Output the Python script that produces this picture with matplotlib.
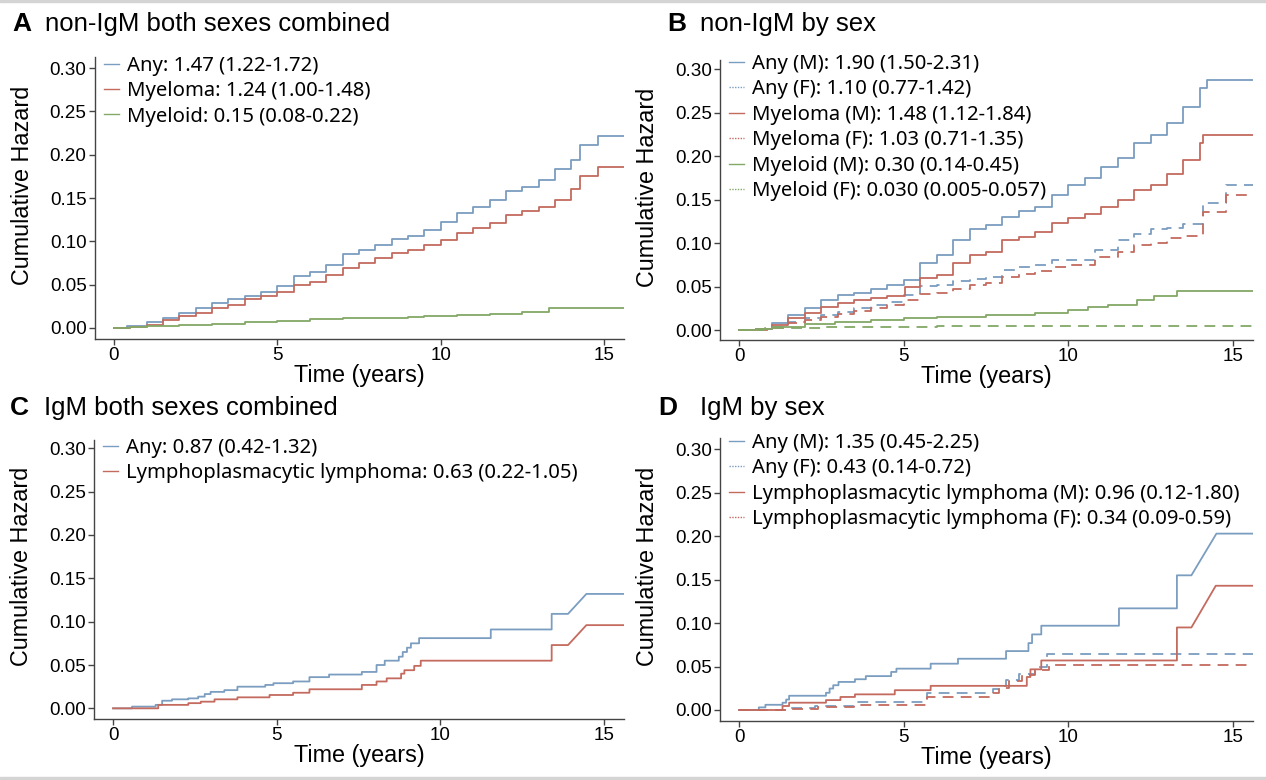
import matplotlib
matplotlib.use('Agg')
import matplotlib.pyplot as plt
from matplotlib.lines import Line2D
from matplotlib.patches import Rectangle

BLUE = '#7b9dc0'
RED = '#c46a5e'
GREEN = '#84a866'

# ---- panel A: non-IgM both sexes combined
A_ANY_T = [0, 0.4, 1, 1.5, 2, 2.5, 3, 3.5, 4, 4.5, 5, 5.5, 6, 6.5, 7, 7.5, 8, 8.5, 9, 9.5,
           10, 10.5, 11, 11.5, 12, 12.5, 13, 13.5, 14, 14.25, 14.8, 15.6]
A_ANY_V = [0, 0.002, 0.0065, 0.0115, 0.017, 0.023, 0.029, 0.033, 0.0365, 0.042, 0.049, 0.060,
           0.065, 0.073, 0.085, 0.090, 0.096, 0.103, 0.106, 0.113, 0.122, 0.133, 0.140, 0.148,
           0.158, 0.163, 0.171, 0.183, 0.194, 0.211, 0.221, 0.221]
A_MYE_T = [0, 0.5, 1, 1.5, 2, 2.5, 3, 3.5, 4, 4.5, 5, 5.5, 6, 6.5, 7, 7.5, 8, 8.5, 9, 9.5,
           10, 10.5, 11, 11.5, 12, 12.5, 13, 13.5, 14, 14.25, 14.8, 15.6]
A_MYE_V = [0, 0.001, 0.004, 0.009, 0.0135, 0.017, 0.023, 0.027, 0.033, 0.0365, 0.042, 0.050,
           0.053, 0.0615, 0.069, 0.075, 0.081, 0.086, 0.090, 0.096, 0.102, 0.1095, 0.115, 0.121,
           0.130, 0.135, 0.140, 0.148, 0.160, 0.175, 0.186, 0.186]
A_MYD_T = [0, 0.5, 1, 2, 3, 4, 5, 6, 7, 8, 9, 9.5, 10.5, 11.5, 12.5, 13.3, 15.6]
A_MYD_V = [0, 0.001, 0.002, 0.004, 0.005, 0.0065, 0.008, 0.0105, 0.011, 0.0115, 0.013, 0.014,
           0.015, 0.0165, 0.019, 0.023, 0.023]

# ---- panel B: non-IgM by sex
B_ANY_M_T = [0, 0.5, 1, 1.5, 2, 2.5, 3, 3.5, 4, 4.5, 5, 5.5, 6, 6.5, 7, 7.5, 8, 8.5, 9, 9.5,
             10, 10.5, 11, 11.5, 12, 12.5, 13, 13.5, 14, 14.2, 15.6]
B_ANY_M_V = [0, 0.001, 0.0085, 0.017, 0.025, 0.0345, 0.040, 0.043, 0.047, 0.052, 0.058, 0.077,
             0.086, 0.1035, 0.116, 0.121, 0.130, 0.137, 0.142, 0.155, 0.167, 0.1745, 0.188,
             0.1975, 0.215, 0.2245, 0.238, 0.257, 0.278, 0.2875, 0.2875]
B_ANY_F_T = [0, 0.5, 1, 1.5, 2, 2.5, 3, 3.5, 4, 4.5, 5, 5.5, 6, 6.5, 7, 7.5, 8, 8.5, 9, 9.5,
             10.8, 11.5, 12, 12.5, 13, 13.5, 14.1, 14.8, 15.6]
B_ANY_F_V = [0, 0.001, 0.004, 0.0095, 0.0135, 0.017, 0.021, 0.025, 0.029, 0.0325, 0.040, 0.0505,
             0.052, 0.056, 0.059, 0.061, 0.069, 0.073, 0.075, 0.081, 0.092, 0.1035, 0.111, 0.116,
             0.117, 0.122, 0.146, 0.167, 0.167]
B_MYE_M_T = [0, 0.5, 1, 1.5, 2, 2.5, 3, 3.5, 4, 4.5, 5.05, 5.5, 6, 6.5, 7, 7.5, 8, 8.5, 9, 9.5,
             10, 10.5, 11, 11.5, 12, 12.5, 13, 13.5, 14, 14.1, 15.6]
B_MYE_M_V = [0, 0.001, 0.0058, 0.0135, 0.019, 0.027, 0.031, 0.0345, 0.0365, 0.039, 0.050, 0.0595,
             0.063, 0.077, 0.086, 0.090, 0.1035, 0.107, 0.113, 0.123, 0.1285, 0.134, 0.142,
             0.1495, 0.161, 0.167, 0.180, 0.1955, 0.215, 0.2245, 0.2245]
B_MYE_F_T = [0, 0.5, 1, 1.5, 2, 2.5, 3, 3.5, 4, 4.5, 5, 5.5, 6, 6.5, 7, 7.5, 8, 8.5, 9, 9.5,
             10, 10.8, 11.5, 12, 12.5, 13, 13.5, 14.1, 14.8, 15.6]
B_MYE_F_V = [0, 0.0005, 0.002, 0.0077, 0.011, 0.0155, 0.0185, 0.022, 0.025, 0.029, 0.0345, 0.0415,
             0.043, 0.047, 0.052, 0.054, 0.0615, 0.0645, 0.068, 0.073, 0.075, 0.0845, 0.090,
             0.098, 0.100, 0.1055, 0.108, 0.136, 0.155, 0.155]
B_MYD_M_T = [0, 0.5, 1, 2, 2.9, 4, 5, 6, 7.5, 9, 10, 10.6, 11.2, 12.1, 12.6, 13.3, 15.6]
B_MYD_M_V = [0, 0.001, 0.004, 0.007, 0.0096, 0.011, 0.0134, 0.015, 0.017, 0.020, 0.023, 0.026,
             0.029, 0.0345, 0.039, 0.045, 0.045]
B_MYD_F_T = [0, 0.8, 2.5, 6.0, 15.6]
B_MYD_F_V = [0, 0.002, 0.003, 0.0048, 0.0048]

# ---- panel C: IgM both sexes combined (steps, then a sloped tail)
C_ANY_T = [0, 0.58, 1.3, 1.5, 1.8, 2.3, 2.6, 2.8, 2.98, 3.4, 3.8, 4.65, 4.9, 5.5, 6.0, 6.6, 7.6,
           8.05, 8.3, 8.73, 8.85, 8.98, 9.1, 9.35, 11.54, 13.4]
C_ANY_V = [0, 0.002, 0.004, 0.0088, 0.0104, 0.0115, 0.0135, 0.0165, 0.019, 0.021, 0.025, 0.027,
           0.029, 0.031, 0.036, 0.039, 0.042, 0.050, 0.055, 0.0596, 0.065, 0.070, 0.075, 0.081,
           0.091, 0.109]
C_ANY_TAIL_T = [13.9, 14.46, 15.6]
C_ANY_TAIL_V = [0.109, 0.132, 0.132]
C_LPL_T = [0, 1.38, 2.3, 2.68, 3.1, 3.8, 4.78, 5.5, 6.0, 7.6, 8.05, 8.36, 8.8, 8.9, 9.2, 9.4, 13.4]
C_LPL_V = [0, 0.004, 0.006, 0.0077, 0.0104, 0.0127, 0.0154, 0.018, 0.022, 0.027, 0.031, 0.0346,
           0.040, 0.044, 0.049, 0.055, 0.073]
C_LPL_TAIL_T = [13.9, 14.46, 15.6]
C_LPL_TAIL_V = [0.073, 0.096, 0.096]

# ---- panel D: IgM by sex
D_ANY_M_T = [0, 0.6, 0.8, 1.32, 1.43, 1.52, 2.64, 2.75, 2.86, 3.02, 3.52, 3.85, 4.62, 4.78, 5.82,
             6.65, 8.11, 8.79, 8.9, 9.18, 11.54, 13.3]
D_ANY_M_V = [0, 0.003, 0.006, 0.0084, 0.012, 0.0164, 0.0198, 0.0247, 0.0285, 0.0323, 0.0354,
             0.039, 0.0438, 0.0476, 0.0533, 0.059, 0.0678, 0.077, 0.087, 0.097, 0.117, 0.155]
D_ANY_M_TAIL_T = [13.74, 14.5, 15.6]
D_ANY_M_TAIL_V = [0.155, 0.203, 0.203]
D_ANY_F_T = [0, 1.4, 2.3, 3.5, 5.7, 7.7, 7.9, 8.1, 8.5, 9.0, 9.35, 15.6]
D_ANY_F_V = [0, 0.002, 0.005, 0.0095, 0.0195, 0.024, 0.028, 0.035, 0.042, 0.05, 0.064, 0.064]
D_LPL_M_T = [0, 1.32, 1.52, 2.64, 3.08, 3.52, 4.73, 5.82, 8.74, 8.85, 9.18, 13.3]
D_LPL_M_V = [0, 0.0046, 0.0084, 0.0114, 0.015, 0.018, 0.0228, 0.0278, 0.038, 0.0468, 0.057, 0.095]
D_LPL_M_TAIL_T = [13.74, 14.48, 15.6]
D_LPL_M_TAIL_V = [0.095, 0.143, 0.143]
D_LPL_F_T = [0, 1.5, 2.4, 3.5, 5.7, 7.7, 7.9, 8.2, 8.6, 9.0, 9.4, 15.6]
D_LPL_F_V = [0, 0.0015, 0.004, 0.006, 0.0155, 0.02, 0.025, 0.033, 0.04, 0.046, 0.0515, 0.0515]

LABELS_A = ['Any: 1.47 (1.22-1.72)', 'Myeloma: 1.24 (1.00-1.48)', 'Myeloid: 0.15 (0.08-0.22)']
LABELS_B = ['Any (M): 1.90 (1.50-2.31)', 'Any (F): 1.10 (0.77-1.42)',
            'Myeloma (M): 1.48 (1.12-1.84)', 'Myeloma (F): 1.03 (0.71-1.35)',
            'Myeloid (M): 0.30 (0.14-0.45)', 'Myeloid (F): 0.030 (0.005-0.057)']
LABELS_C = ['Any: 0.87 (0.42-1.32)', 'Lymphoplasmacytic lymphoma: 0.63 (0.22-1.05)']
LABELS_D = ['Any (M): 1.35 (0.45-2.25)', 'Any (F): 0.43 (0.14-0.72)',
            'Lymphoplasmacytic lymphoma (M): 0.96 (0.12-1.80)',
            'Lymphoplasmacytic lymphoma (F): 0.34 (0.09-0.59)']
TITLES = [('A', 'non-IgM both sexes combined'), ('B', 'non-IgM by sex'),
          ('C', 'IgM both sexes combined'), ('D', 'IgM by sex')]

SANS = ['Liberation Sans', 'DejaVu Sans']
LEG_FONT = ['Noto Sans', 'DejaVu Sans']
DASH = (0, (6, 4))


def step_xy(t, v, tail_t=(), tail_v=()):
    x, y = [t[0]], [v[0]]
    for i in range(1, len(t)):
        x += [t[i], t[i]]
        y += [v[i - 1], v[i]]
    return x + list(tail_t), y + list(tail_v)


def setup(ax, ylim):
    ax.set_xlim(-0.58, 15.61)
    ax.set_ylim(*ylim)
    for s in ['top', 'right']:
        ax.spines[s].set_visible(False)
    for s in ['left', 'bottom']:
        ax.spines[s].set_color('#444444')
        ax.spines[s].set_linewidth(1.0)
    ax.set_xticks([0, 5, 10, 15])
    ax.set_yticks([0, 0.05, 0.10, 0.15, 0.20, 0.25, 0.30])
    ax.set_yticklabels(['%.2f' % y for y in ax.get_yticks()])
    ax.tick_params(direction='out', length=4, width=1, color='#444444', pad=2,
                   labelsize=13.6)
    for lab in ax.get_xticklabels() + ax.get_yticklabels():
        lab.set_family(SANS)
    ax.set_xlabel('Time (years)', fontsize=16.8, family=SANS, labelpad=0)
    ax.set_ylabel('Cumulative Hazard', fontsize=16.8, family=SANS)
    ax.yaxis.set_label_coords(-0.115, 0.546)


def legend(ax, handles, labels, top=1.0):
    ax.legend(handles, labels, loc='upper left', bbox_to_anchor=(0.017, top), frameon=False,
              borderpad=0, borderaxespad=0, handlelength=0.75, handletextpad=0.38,
              labelspacing=0.27, prop={'family': LEG_FONT, 'size': 14.6})


def proxy(color, dashed=False):
    return Line2D([], [], color=color, lw=1.0, ls=(0, (1, 1)) if dashed else '-')


fig = plt.figure(figsize=(12.66, 7.8), dpi=100)
fig.patches.append(Rectangle((0, 0.9975), 1, 0.0025, transform=fig.transFigure,
                             color='#d4d4d4', zorder=0))
fig.patches.append(Rectangle((0, 0), 1, 0.004, transform=fig.transFigure,
                             color='#d4d4d4', zorder=0))

axA = fig.add_axes([0.0750, 0.5654, 0.4179, 0.3615])
axB = fig.add_axes([0.5687, 0.5641, 0.4210, 0.3590])
axC = fig.add_axes([0.0743, 0.0782, 0.4186, 0.3577])
axD = fig.add_axes([0.5687, 0.0756, 0.4210, 0.3628])

LW = 1.3

# A
axA.plot(*step_xy(A_ANY_T, A_ANY_V), color=BLUE, lw=LW)
axA.plot(*step_xy(A_MYE_T, A_MYE_V), color=RED, lw=LW)
axA.plot(*step_xy(A_MYD_T, A_MYD_V), color=GREEN, lw=LW)
setup(axA, (-0.0127, 0.3127))
legend(axA, [proxy(BLUE), proxy(RED), proxy(GREEN)], LABELS_A, 1.005)

# B
axB.plot(*step_xy(B_ANY_M_T, B_ANY_M_V), color=BLUE, lw=LW)
axB.plot(*step_xy(B_ANY_F_T, B_ANY_F_V), color=BLUE, lw=LW, ls=DASH)
axB.plot(*step_xy(B_MYE_M_T, B_MYE_M_V), color=RED, lw=LW)
axB.plot(*step_xy(B_MYE_F_T, B_MYE_F_V), color=RED, lw=LW, ls=DASH)
axB.plot(*step_xy(B_MYD_M_T, B_MYD_M_V), color=GREEN, lw=LW)
axB.plot(*step_xy(B_MYD_F_T, B_MYD_F_V), color=GREEN, lw=LW, ls=DASH)
setup(axB, (-0.0115, 0.3107))
legend(axB, [proxy(BLUE), proxy(BLUE, True), proxy(RED), proxy(RED, True),
             proxy(GREEN), proxy(GREEN, True)], LABELS_B, 1.022)

# C
axC.plot(*step_xy(C_ANY_T, C_ANY_V, C_ANY_TAIL_T, C_ANY_TAIL_V), color=BLUE, lw=LW)
axC.plot(*step_xy(C_LPL_T, C_LPL_V, C_LPL_TAIL_T, C_LPL_TAIL_V), color=RED, lw=LW)
setup(axC, (-0.0123, 0.3096))
legend(axC, [proxy(BLUE), proxy(RED)], LABELS_C, 1.008)

# D
axD.plot(*step_xy(D_ANY_M_T, D_ANY_M_V, D_ANY_M_TAIL_T, D_ANY_M_TAIL_V), color=BLUE, lw=LW)
axD.plot(*step_xy(D_ANY_F_T, D_ANY_F_V), color=BLUE, lw=LW, ls=DASH)
axD.plot(*step_xy(D_LPL_M_T, D_LPL_M_V, D_LPL_M_TAIL_T, D_LPL_M_TAIL_V), color=RED, lw=LW)
axD.plot(*step_xy(D_LPL_F_T, D_LPL_F_V), color=RED, lw=LW, ls=DASH)
setup(axD, (-0.0127, 0.3130))
legend(axD, [proxy(BLUE), proxy(BLUE, True), proxy(RED), proxy(RED, True)], LABELS_D, 1.018)

# panel titles
title_pos = [(12, 45, 24), (667, 700, 24), (10, 44, 408), (658, 700, 408)]
for (letter, text), (xl, xt, yc) in zip(TITLES, title_pos):
    fig.text(xl / 1266, 1 - yc / 780, letter, fontsize=19, fontweight='bold',
             family=SANS, va='center', ha='left')
    fig.text(xt / 1266, 1 - yc / 780, text, fontsize=18.5, family=SANS,
             va='center', ha='left')

fig.savefig('out.png', dpi=100)
